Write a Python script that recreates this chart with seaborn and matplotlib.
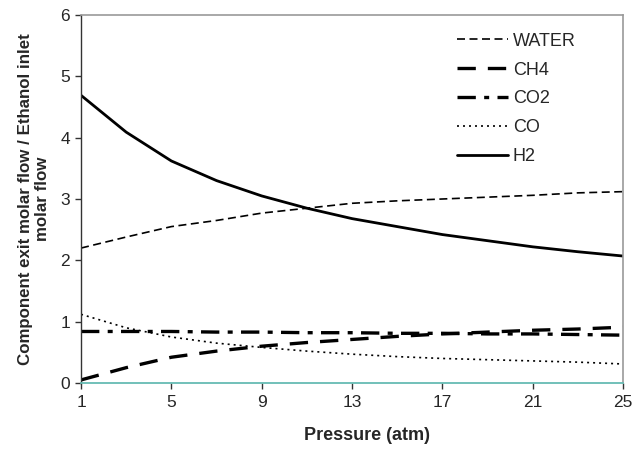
import matplotlib
matplotlib.use("Agg")
import matplotlib.pyplot as plt
import seaborn as sns
import pandas as pd

pressure = [1, 3, 5, 7, 9, 11, 13, 15, 17, 19, 21, 23, 25]
water = [2.20, 2.38, 2.55, 2.65, 2.77, 2.85, 2.93, 2.97, 3.00, 3.03, 3.06, 3.10, 3.12]
ch4 = [0.05, 0.25, 0.42, 0.52, 0.60, 0.66, 0.71, 0.76, 0.80, 0.83, 0.86, 0.88, 0.91]
co2 = [0.84, 0.84, 0.84, 0.83, 0.83, 0.82, 0.82, 0.81, 0.81, 0.80, 0.80, 0.79, 0.78]
co = [1.12, 0.90, 0.75, 0.65, 0.58, 0.52, 0.47, 0.43, 0.40, 0.38, 0.36, 0.34, 0.31]
h2 = [4.69, 4.09, 3.62, 3.30, 3.05, 2.85, 2.68, 2.55, 2.42, 2.32, 2.22, 2.14, 2.07]

series = {"WATER": water, "CH4": ch4, "CO2": co2, "CO": co, "H2": h2}
styles = {
    "WATER": dict(lw=1.2, dashes=(4.8, 2.7)),
    "CH4": dict(lw=2.4, dashes=(5.5, 3.6)),
    "CO2": dict(lw=2.4, dashes=(5.5, 2.5, 1.5, 2.5)),
    "CO": dict(lw=1.2, dashes=(1.2, 2.4)),
    "H2": dict(lw=2.0, dashes=None),
}

sns.set_style("white")
plt.rcParams["font.family"] = ["Liberation Sans", "DejaVu Sans"]

fig = plt.figure(figsize=(6.34, 4.49), dpi=100)
ax = fig.add_axes([0.1278, 0.147, 0.855, 0.8196])

for name, vals in series.items():
    df = pd.DataFrame({"Pressure": pressure, "val": vals})
    st = styles[name]
    sns.lineplot(data=df, x="Pressure", y="val", ax=ax, color="black",
                 lw=st["lw"], label=name)
    line = ax.get_lines()[-1]
    if st["dashes"] is not None:
        line.set_dashes(st["dashes"])

ax.set_xlim(1, 25)
ax.set_ylim(0, 6)
ax.set_xticks([1, 5, 9, 13, 17, 21, 25])
ax.set_yticks(range(0, 7))
ax.tick_params(axis="both", labelsize=12.5, length=4.5, width=1.0, direction="out",
               color="#333333", left=True, bottom=True)
ax.tick_params(axis="x", pad=4.5)
ax.tick_params(axis="y", pad=3.5)
ax.set_xlabel("Pressure (atm)", fontsize=13, fontweight="bold")
ax.xaxis.set_label_coords(0.527, -0.12)
ax.set_ylabel("Component exit molar flow / Ethanol inlet\nmolar flow", fontsize=12.2,
              fontweight="bold", labelpad=7)

for s in ["top", "right"]:
    ax.spines[s].set_color("#999999")
    ax.spines[s].set_linewidth(1.2)
ax.spines["left"].set_color("#333333")
ax.spines["left"].set_linewidth(1.0)
ax.spines["bottom"].set_color("#66bbb3")
ax.spines["bottom"].set_linewidth(1.3)

leg = ax.legend(loc="upper left", bbox_to_anchor=(0.694, 0.952), frameon=False,
                fontsize=13, handlelength=2.8, handletextpad=0.28, labelspacing=0.66,
                borderpad=0, borderaxespad=0)

fig.savefig("out.png", dpi=100)
